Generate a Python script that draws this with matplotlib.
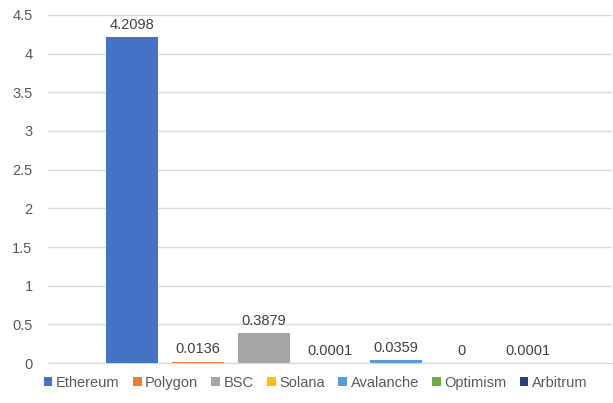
import matplotlib.pyplot as plt
import numpy as np

chains = ["Ethereum", "Polygon", "BSC", "Solana", "Avalanche", "Optimism", "Arbitrum"]
values = [4.2098, 0.0136, 0.3879, 0.0001, 0.0359, 0, 0.0001]
labels = ["4.2098", "0.0136", "0.3879", "0.0001", "0.0359", "0", "0.0001"]
colors = ["#4472C4", "#ED7D31", "#A5A5A5", "#FFC000", "#5B9BD5", "#70AD47", "#264478"]
yticks = [0, 0.5, 1, 1.5, 2, 2.5, 3, 3.5, 4, 4.5]
ytick_labels = ["0", "0.5", "1", "1.5", "2", "2.5", "3", "3.5", "4", "4.5"]

plt.rcParams["font.family"] = ["Liberation Sans", "DejaVu Sans"]

fig = plt.figure(figsize=(6.13, 4.03), dpi=100)
ax = fig.add_axes([0.078, 0.099, 0.92, 0.864])

x = np.arange(len(chains))
bars = ax.bar(x, values, width=0.79, color=colors, label=chains, zorder=3)

for xi, v, lab in zip(x, values, labels):
    ax.annotate(lab, (xi, v), xytext=(0, 4), textcoords="offset points",
                ha="center", va="bottom", fontsize=10.5, color="#404040")

ax.set_xlim(-1.27, 7.27)
ax.set_ylim(0, 4.5)
ax.set_yticks(yticks)
ax.set_yticklabels(ytick_labels)
ax.set_xticks([])
ax.tick_params(axis="y", length=0, labelsize=10.5, labelcolor="#595959", pad=11)
ax.grid(axis="y", color="#d9d9d9", linewidth=1, zorder=0)
for s in ["top", "right", "left"]:
    ax.spines[s].set_visible(False)
ax.spines["bottom"].set_color("#d9d9d9")

fig.legend(bars, chains, loc="lower center", bbox_to_anchor=(0.515, 0.0), ncol=7,
           frameon=False, fontsize=10.5, handlelength=0.6, handleheight=0.6,
           handletextpad=0.25, columnspacing=0.9, labelcolor="#595959")

fig.savefig("out.png", dpi=100)
